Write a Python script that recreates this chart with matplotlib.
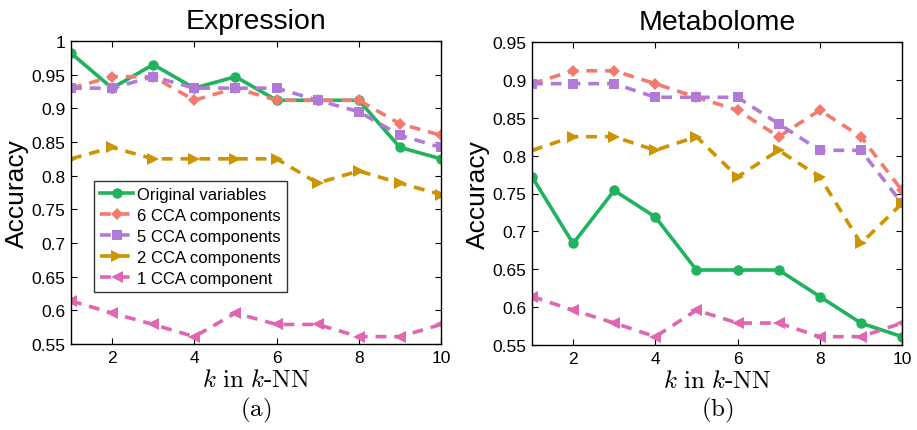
import matplotlib
matplotlib.use("Agg")
import matplotlib.pyplot as plt

k = [1, 2, 3, 4, 5, 6, 7, 8, 9, 10]

series_labels = ["Original variables", "6 CCA components", "5 CCA components",
                 "2 CCA components", "1 CCA component"]

expr_orig = [0.982, 0.930, 0.965, 0.930, 0.947, 0.912, 0.912, 0.912, 0.842, 0.825]
expr_cca6 = [0.930, 0.947, 0.947, 0.912, 0.930, 0.912, 0.912, 0.912, 0.877, 0.860]
expr_cca5 = [0.930, 0.930, 0.947, 0.930, 0.930, 0.930, 0.912, 0.895, 0.860, 0.842]
expr_cca2 = [0.825, 0.842, 0.825, 0.825, 0.825, 0.825, 0.789, 0.807, 0.789, 0.772]
expr_cca1 = [0.614, 0.596, 0.579, 0.561, 0.596, 0.579, 0.579, 0.561, 0.561, 0.579]

meta_orig = [0.772, 0.684, 0.754, 0.719, 0.649, 0.649, 0.649, 0.614, 0.579, 0.561]
meta_cca6 = [0.895, 0.912, 0.912, 0.895, 0.877, 0.860, 0.825, 0.860, 0.825, 0.754]
meta_cca5 = [0.895, 0.895, 0.895, 0.877, 0.877, 0.877, 0.842, 0.807, 0.807, 0.737]
meta_cca2 = [0.807, 0.825, 0.825, 0.807, 0.825, 0.772, 0.807, 0.772, 0.684, 0.737]
meta_cca1 = [0.614, 0.596, 0.579, 0.561, 0.596, 0.579, 0.579, 0.561, 0.561, 0.579]

expr_yticks = [0.55, 0.6, 0.65, 0.7, 0.75, 0.8, 0.85, 0.9, 0.95, 1.0]
expr_yticklabels = ["0.55", "0.6", "0.65", "0.7", "0.75", "0.8", "0.85", "0.9", "0.95", "1"]
meta_yticks = [0.55, 0.6, 0.65, 0.7, 0.75, 0.8, 0.85, 0.9, 0.95]
meta_yticklabels = ["0.55", "0.6", "0.65", "0.7", "0.75", "0.8", "0.85", "0.9", "0.95"]
xticks = [2, 4, 6, 8, 10]

styles = [
    dict(color="#1fb35e", ls="-", marker="o", ms=7.5),
    dict(color="#f47a6e", ls="--", marker="D", ms=6.5),
    dict(color="#b07ad6", ls="--", marker="s", ms=7.5),
    dict(color="#cc9400", ls="--", marker=">", ms=8.5),
    dict(color="#e066b2", ls="--", marker="<", ms=8.5),
]

plt.rcParams["font.family"] = ["Liberation Sans", "DejaVu Sans"]
plt.rcParams["mathtext.fontset"] = "cm"

fig = plt.figure(figsize=(9.17, 4.31), dpi=100)
W, H = 917, 431
ax1 = fig.add_axes([71 / W, 1 - 345 / H, 370 / W, 303 / H])
ax2 = fig.add_axes([532 / W, 1 - 346 / H, 370 / W, 303 / H])


def draw(ax, data, title, yticks, ylabels, ylim, sub):
    for vals, st, lab in zip(data, styles, series_labels):
        kw = dict(dashes=(3, 2.2)) if st["ls"] == "--" else {}
        ax.plot(k, vals, color=st["color"], ls=st["ls"], marker=st["marker"],
                ms=st["ms"], lw=2.6, label=lab, markeredgewidth=0, **kw)
    ax.set_xlim(1, 10)
    ax.set_ylim(*ylim)
    ax.set_xticks(xticks)
    ax.set_yticks(yticks)
    ax.set_yticklabels(ylabels)
    ax.tick_params(direction="in", top=True, right=True, labelsize=12.5,
                   length=4, width=0.8, pad=4)
    for sp in ax.spines.values():
        sp.set_linewidth(1.0)
    ax.set_title(title, fontsize=20.5, pad=9)
    ax.set_ylabel("Accuracy", fontsize=19, labelpad=2)
    ax.set_xlabel(r"$k\ \mathrm{in}\ k\text{-NN}$", fontsize=18, labelpad=2)
    bb = ax.get_position()
    fig.text((bb.x0 + bb.x1) / 2, 1 - 410 / H, r"$\mathrm{(" + sub + r")}$",
             ha="center", va="center", fontsize=18)


draw(ax1, [expr_orig, expr_cca6, expr_cca5, expr_cca2, expr_cca1], "Expression",
     expr_yticks, expr_yticklabels, (0.55, 1.0), "a")
draw(ax2, [meta_orig, meta_cca6, meta_cca5, meta_cca2, meta_cca1], "Metabolome",
     meta_yticks, meta_yticklabels, (0.55, 0.95), "b")

leg = ax1.legend(loc="upper left", bbox_to_anchor=(23 / 370, (345 - 182) / 303),
                 fontsize=12, frameon=True, fancybox=False, handlelength=2.0,
                 handletextpad=0.25, borderpad=0.35, labelspacing=0.36,
                 borderaxespad=0)
leg.get_frame().set_edgecolor("black")
leg.get_frame().set_linewidth(1.0)

fig.savefig("out.png", dpi=100)
